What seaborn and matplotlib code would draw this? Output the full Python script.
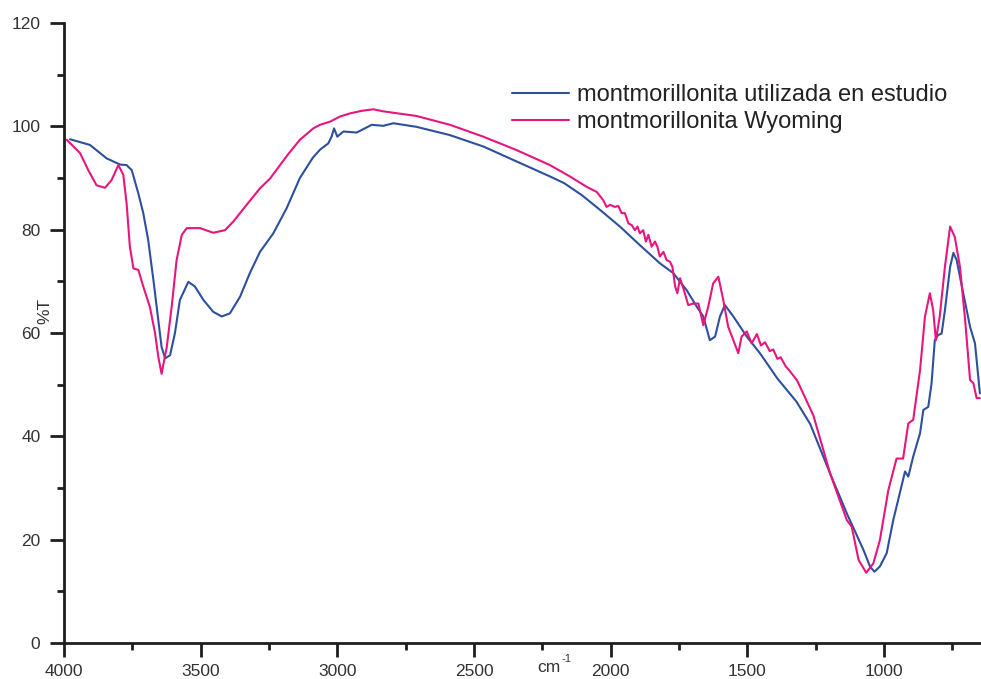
import matplotlib
matplotlib.use("Agg")
import matplotlib.pyplot as plt
from matplotlib.ticker import MultipleLocator, FixedLocator
import seaborn as sns
import pandas as pd

# IR transmittance spectra (wavenumber in cm-1, %T)
wn_estudio = [3978, 3905, 3844, 3795, 3771, 3752, 3728, 3710, 3692, 3673, 3655, 3643,
              3630, 3612, 3594, 3576, 3545, 3521, 3490, 3454, 3423, 3393, 3356, 3320,
              3283, 3234, 3185, 3137, 3090, 3063, 3033, 3021, 3012, 3000, 2978, 2929,
              2874, 2832, 2795, 2710, 2588, 2466, 2344, 2222, 2170, 2106, 2045, 1966,
              1893, 1820, 1771, 1722, 1685, 1661, 1637, 1618, 1600, 1582, 1551, 1502,
              1454, 1390, 1320, 1270, 1197, 1136, 1075, 1051, 1035, 1015, 990, 966,
              948, 923, 911, 893, 868, 856, 838, 826, 814, 802, 789, 777, 758, 746,
              734, 710, 685, 667, 649]
t_estudio = [97.5, 96.4, 93.8, 92.6, 92.5, 91.5, 87.0, 83.2, 78.0, 70.3, 62.5, 57.3,
             55.1, 55.7, 60.0, 66.4, 69.9, 69.0, 66.4, 64.1, 63.2, 63.8, 67.0, 71.6,
             75.7, 79.3, 84.2, 90.0, 93.9, 95.5, 96.7, 98.0, 99.6, 98.0, 99.0, 98.8,
             100.3, 100.1, 100.6, 99.9, 98.3, 96.1, 93.2, 90.3, 89.0, 86.7, 84.1, 80.6,
             77.0, 73.5, 71.6, 68.3, 65.1, 63.2, 58.6, 59.3, 63.2, 65.4, 63.2, 59.3,
             56.1, 51.2, 46.7, 42.4, 32.8, 25.1, 18.0, 14.8, 13.8, 14.8, 17.4, 23.8,
             27.7, 33.2, 32.2, 36.1, 40.6, 45.1, 45.7, 50.2, 58.6, 59.6, 59.9, 64.4,
             72.8, 75.5, 74.1, 67.7, 61.2, 58.0, 48.3]

wn_wyoming = [3990, 3941, 3911, 3881, 3850, 3826, 3801, 3783, 3771, 3759, 3746, 3728,
              3710, 3686, 3667, 3655, 3643, 3624, 3606, 3588, 3569, 3551, 3502, 3454,
              3411, 3380, 3332, 3283, 3246, 3180, 3137, 3088, 3063, 3027, 2990, 2954,
              2911, 2868, 2832, 2710, 2588, 2466, 2344, 2222, 2149, 2088, 2051, 2027,
              2015, 2002, 1984, 1972, 1960, 1948, 1935, 1923, 1911, 1902, 1893, 1881,
              1871, 1862, 1850, 1838, 1829, 1820, 1807, 1795, 1783, 1774, 1764, 1756,
              1746, 1732, 1716, 1698, 1679, 1661, 1643, 1625, 1606, 1588, 1570, 1551,
              1533, 1521, 1502, 1484, 1465, 1450, 1435, 1418, 1405, 1390, 1378, 1360,
              1344, 1319, 1307, 1258, 1197, 1136, 1118, 1093, 1065, 1039, 1015, 984,
              954, 930, 911, 893, 868, 850, 832, 820, 810, 796, 777, 758, 741, 722,
              703, 685, 673, 661, 649]
t_wyoming = [97.4, 94.8, 91.5, 88.6, 88.1, 89.6, 92.5, 90.6, 85.1, 76.7, 72.5, 72.2,
             69.0, 65.1, 60.0, 55.4, 52.1, 57.3, 65.1, 74.1, 79.0, 80.3, 80.3, 79.4,
             79.9, 81.6, 84.8, 88.0, 89.9, 94.6, 97.4, 99.6, 100.3, 100.9, 101.9, 102.5,
             103.0, 103.3, 102.9, 102.0, 100.3, 98.0, 95.4, 92.5, 90.3, 88.3, 87.3, 85.7,
             84.4, 84.8, 84.4, 84.6, 83.2, 83.2, 81.2, 80.9, 79.9, 80.6, 79.3, 79.9,
             77.7, 79.0, 76.7, 77.7, 76.7, 74.8, 75.7, 74.1, 73.8, 72.8, 69.0, 67.7,
             70.6, 68.3, 65.4, 65.7, 65.7, 61.5, 65.1, 69.6, 70.9, 66.4, 61.2, 58.6,
             56.1, 59.3, 60.3, 58.0, 59.8, 57.6, 58.2, 56.5, 56.8, 55.0, 55.3, 53.6,
             52.6, 50.9, 49.6, 44.0, 32.8, 23.8, 22.5, 16.1, 13.6, 15.4, 19.9, 29.6,
             35.7, 35.7, 42.5, 43.2, 52.8, 63.2, 67.7, 64.4, 58.6, 63.2, 72.8, 80.6,
             78.6, 72.8, 62.5, 50.9, 50.3, 47.4, 47.4]

series_names = ["montmorillonita utilizada en estudio", "montmorillonita Wyoming"]
series_colors = ["#2d4f9e", "#e8157c"]

x_ticks = [4000, 3500, 3000, 2500, 2000, 1500, 1000]
y_ticks = [0, 20, 40, 60, 80, 100, 120]

df = pd.concat([
    pd.DataFrame({"wn": wn_estudio, "T": t_estudio, "muestra": series_names[0]}),
    pd.DataFrame({"wn": wn_wyoming, "T": t_wyoming, "muestra": series_names[1]}),
], ignore_index=True)

sns.set_style("ticks")
plt.rcParams["font.family"] = ["Liberation Sans", "DejaVu Sans"]

W, H = 981, 679
fig = plt.figure(figsize=(W / 100, H / 100), dpi=100)
ax = fig.add_axes([64 / W, 36 / H, (W - 64) / W, (643 - 23) / H])

sns.lineplot(data=df, x="wn", y="T", hue="muestra", hue_order=series_names,
             palette=series_colors, estimator=None, sort=False, linewidth=1.5,
             ax=ax)

ax.set_xlim(4000, 645)
ax.set_ylim(0, 120)
ax.xaxis.set_major_locator(FixedLocator(x_ticks))
ax.xaxis.set_minor_locator(MultipleLocator(250))
ax.yaxis.set_major_locator(FixedLocator(y_ticks))
ax.yaxis.set_minor_locator(MultipleLocator(10))

for side in ("top", "right"):
    ax.spines[side].set_visible(False)
for side in ("left", "bottom"):
    ax.spines[side].set_linewidth(2.0)
    ax.spines[side].set_color("#1e1e1e")

ax.tick_params(which="major", direction="out", length=10, width=2.0,
               color="#1e1e1e", labelsize=12.5, labelcolor="#333333")
ax.tick_params(which="minor", direction="out", length=5, width=2.0,
               color="#1e1e1e")
ax.tick_params(axis="y", which="major", pad=7)
ax.tick_params(axis="x", which="major", pad=5)
ax.set_xlabel("")
ax.set_ylabel("")

# axis titles
fig.text(45 / W, 1 - 311 / H, "%T", rotation=90, ha="center", va="center",
         fontsize=12.5, color="#333333")
fig.text(537 / W, 1 - 672 / H, "cm", ha="left", va="baseline",
         fontsize=12.5, color="#333333")
fig.text(561 / W, 1 - 662 / H, "-1", ha="left", va="baseline",
         fontsize=8, color="#333333")

leg = ax.legend(loc="upper left", bbox_to_anchor=(512 / W, 1 - 84 / H),
                bbox_transform=fig.transFigure, frameon=False, fontsize=17,
                handlelength=2.4, handletextpad=0.35, labelspacing=0.22,
                borderpad=0, borderaxespad=0)
for t in leg.get_texts():
    t.set_color("#222222")
for line in leg.get_lines():
    line.set_linewidth(1.5)

fig.savefig("out.png", dpi=100)
